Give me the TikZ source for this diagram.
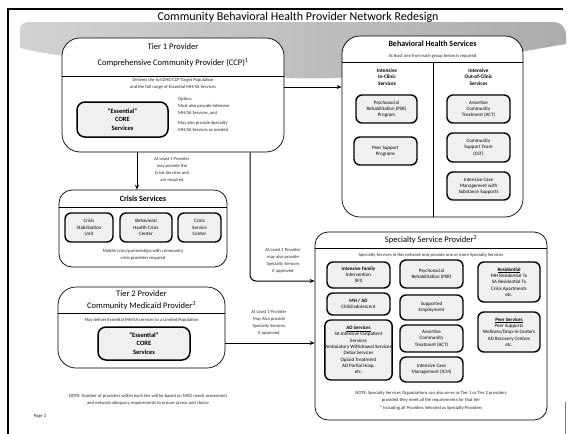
\documentclass[tikz,border=0pt]{standalone}
\usepackage{fontspec}
\setmainfont{Carlito}
\usetikzlibrary{arrows.meta}
\tikzset{
  bigbox/.style={draw, line width=0.7pt, rounded corners=18pt, fill=white, inner sep=0pt},
  midbox/.style={draw, line width=0.7pt, rounded corners=13pt, fill=white, inner sep=0pt},
  subbox/.style={draw, line width=1.4pt, rounded corners=6pt, fill=gray!12, align=center, inner sep=0.5pt,
     font=\fontsize{5}{6.3}\selectfont},
  corebox/.style={draw, line width=1.5pt, rounded corners=8pt, fill=gray!12, align=center, inner sep=0pt,
     font=\bfseries\fontsize{6.5}{8.5}\selectfont},
  hdr/.style={font=\fontsize{8.5}{10}\selectfont, inner sep=0pt},
  hdrb/.style={font=\bfseries\fontsize{8}{10}\selectfont, inner sep=0pt},
  small/.style={font=\fontsize{4.6}{7}\selectfont, align=center, text=black!85, inner sep=0pt},
  colhead/.style={font=\bfseries\fontsize{5.3}{6.8}\selectfont, align=center, inner sep=0pt},
  conn/.style={line width=1pt, -{Stealth[length=5pt,width=4pt]}},
  sep/.style={line width=0.6pt}
}
\begin{document}
\begin{tikzpicture}[x=1pt,y=-1pt]
\useasboundingbox (0,0) rectangle (571,434);
% frame
\draw[line width=2pt] (8,434) -- (8,9) -- (563,9);
\draw[gray, line width=0.5pt] (565,402) -- (565,434);
% swoosh band
\shade[left color=gray!35, right color=gray!65]
  (20,30) .. controls (20,24) and (24,22) .. (30,22) -- (552,22)
  .. controls (562,22) and (566,28) .. (566,36) -- (566,44)
  .. controls (470,60) and (380,82) .. (290,78)
  .. controls (200,72) and (80,62) .. (20,48) -- cycle;
% title
\node[font=\fontsize{12}{14}\selectfont, inner sep=0pt] (title) at (298,17) {Community Behavioral Health Provider Network Redesign};

% ---------------- Tier 1
\node[bigbox, minimum width=222pt, minimum height=114pt] (tier1) at (173,95) {};
\draw[sep] (tier1.west |- 0,76) -- (tier1.east |- 0,76);
\node[hdr] (t1a) at (173,47) {Tier 1 Provider};
\node[hdr] (t1b) at (173,63) {Comprehensive Community Provider (CCP)\textsuperscript{1}};
\node[small] (t1c) at (173,83.5) {Delivers the full DHS/CCP Target Population\\and the full range of Essential MH/SA Services};
\node[corebox, minimum width=91pt, minimum height=35pt] (core1) at (122.5,119.5) {``Essential''\\CORE\\Services};
\node[small, align=left, anchor=north west] (t1d) at (178,97.5) {Option:\\ Must also provide Intensive\\ MH/SA Services, and\\[3pt] May also provide Specialty\\ MH/SA Services as needed};

% ---------------- Behavioral Health Services
\node[bigbox, minimum width=181pt, minimum height=181pt] (bh) at (432.5,126.5) {};
\draw[sep] (bh.west |- 0,62) -- (bh.east |- 0,62);
\draw[sep] (433,62) -- (bh.south -| 433,0);
\node[hdrb] (bha) at (432.5,44) {Behavioral Health Services};
\node[small] (bhb) at (432.5,56) {At least one from each group below is required};
\node[colhead] (bhl) at (387,77) {Intensive\\In-Clinic\\Services};
\node[colhead] (bhr) at (478.5,77) {Intensive\\Out-of-Clinic\\Services};
\node[subbox, minimum width=61pt, minimum height=28pt] (bpsr) at (386.5,109) {Psychosocial\\Rehabilitation (PSR)\\Program};
\node[subbox, minimum width=63pt, minimum height=28pt] (bpeer) at (385.5,151) {Peer Support\\Programs};
\node[subbox, minimum width=63pt, minimum height=28pt] (bact) at (478.5,109) {Assertive\\Community\\Treatment (ACT)};
\node[subbox, minimum width=63pt, minimum height=29pt] (bcst) at (478.5,147.5) {Community\\Support Team\\(CST)};
\node[subbox, minimum width=63pt, minimum height=28pt] (bicm) at (478.5,186) {Intensive Case\\Management with\\Substance Supports};

% ---------------- Crisis Services
\node[midbox, minimum width=168pt, minimum height=77pt] (crisis) at (143,228.5) {};
\draw[sep] (crisis.west |- 0,207) -- (crisis.east |- 0,207);
\node[hdrb] (cra) at (143,198.5) {Crisis Services};
\node[subbox, minimum width=48pt, minimum height=29pt] (csu) at (89,227.5) {Crisis\\Stabilization\\Unit};
\node[subbox, minimum width=52pt, minimum height=29pt] (bhcc) at (146,227.5) {Behavioral\\Health Crisis\\Center};
\node[subbox, minimum width=43pt, minimum height=29pt] (csc) at (199.5,227.5) {Crisis\\Service\\Center};
\node[small] (crb) at (143,254.5) {Mobile crisis/partnerships with community\\crisis providers required};

% ---------------- Tier 2
\node[bigbox, minimum width=167pt, minimum height=81pt] (tier2) at (141.5,327.5) {};
\draw[sep] (tier2.west |- 0,313) -- (tier2.east |- 0,313);
\node[hdr] (t2a) at (141.5,294) {Tier 2 Provider};
\node[hdr] (t2b) at (141.5,306) {Community Medicaid Provider\textsuperscript{3}};
\node[small] (t2c) at (141.5,320) {May deliver Essential MH/SA services to a Limited Population};
\node[corebox, minimum width=92pt, minimum height=33pt] (core2) at (144,343.5) {``Essential''\\CORE\\Services};

% ---------------- Specialty Service Provider
\node[midbox, minimum width=232pt, minimum height=188pt] (spec) at (431,326) {};
\draw[sep] (spec.west |- 0,248) -- (spec.east |- 0,248);
\node[hdr] (spa) at (431,240) {Specialty Service Provider\textsuperscript{2}};
\node[small] (spb) at (431,255.5) {Specialty Services in this network may provide one or more Specialty Services};
\node[subbox, minimum width=63pt, minimum height=26pt] (ifi) at (358.5,275) {\textbf{Intensive Family}\\Intervention\\(IFI)};
\node[subbox, minimum width=63pt, minimum height=22pt] (mhad) at (358.5,304) {\textbf{MH / AD}\\Child/adolescent};
\node[subbox, minimum width=63pt, minimum height=60pt] (ads) at (358.5,350) {\textbf{\underline{AD Services}}\\SA Intensive Outpatient\\Services\\Ambulatory Withdrawal Services\\Detox Services\\Opioid Treatment\\AD Partial Hosp.\\etc.};
\node[subbox, minimum width=63pt, minimum height=28pt] (spsr) at (431.5,274) {Psychosocial\\Rehabilitation (PSR)};
\node[subbox, minimum width=63pt, minimum height=25pt] (semp) at (431.5,307.5) {Supported\\Employment};
\node[subbox, minimum width=63pt, minimum height=27pt] (sact) at (431.5,338.5) {Assertive\\Community\\Treatment (ACT)};
\node[subbox, minimum width=63pt, minimum height=25pt] (sicm) at (431.5,369.5) {Intensive Case\\Management (ICM)};
\node[subbox, minimum width=62pt, minimum height=40pt] (res) at (509,282) {\textbf{\underline{Residential}}\\MH Residential Tx\\SA Residential Tx\\Crisis Apartments\\etc.};
\node[subbox, minimum width=62pt, minimum height=40pt] (peer) at (509,332) {\textbf{\underline{Peer Services}}\\Peer Supports\\Wellness/Drop-In Centers\\AD Recovery Centers\\etc.};
\node[small] (spc) at (431,396.5) {NOTE: Specialty Services Organizations can also serve as Tier 1 or Tier 2 providers\\provided they meet all the requirements for that tier};
\node[small] (spd) at (431,408.5) {* Including all Providers Selected as Specialty Providers};

% ---------------- connector labels
\node[small] (lcr) at (172,170) {At Least 1 Provider\\may provide the\\Crisis Services and\\are required};
\node[small] (lsp) at (283,261) {At Least 1 Provider\\may also provide\\Specialty Services\\if approved};
\node[small] (lt2) at (269,323) {At Least 1 Provider\\May Also provide\\Specialty Services\\if approved};

% ---------------- footnotes
\node[small] (fn) at (148,399.5) {NOTE: Number of providers within each tier will be based on MCO needs assessment\\and network adequacy requirements to ensure access and choice};
\node[small] (pg) at (40,416) {Page 2};

% ---------------- connectors
\coordinate (y87) at (0,87);
\coordinate (x137) at (137,0);
\coordinate (x250) at (250,0);
\coordinate (y281) at (0,281);
\coordinate (y343) at (0,343);
\draw[conn] (tier1.east |- y87) -- (bh.west |- y87);
\draw[conn] (tier1.south -| x137) -- (crisis.north -| x137);
\draw[conn, rounded corners=6pt] (tier1.south -| x250) -- (x250 |- y281) -- (spec.west |- y281);
\draw[conn] (tier2.east |- y343) -- (spec.west |- y343);
\end{tikzpicture}
\end{document}
